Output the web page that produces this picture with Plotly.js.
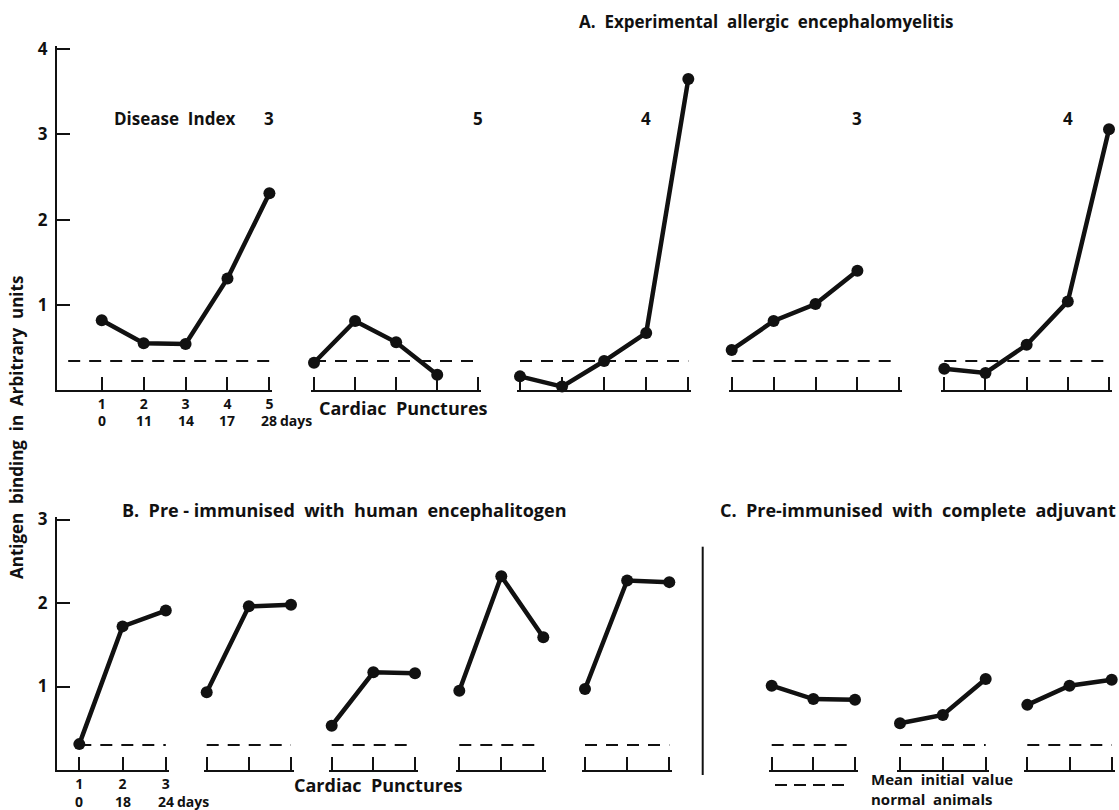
<!DOCTYPE html>
<html>
<head>
<meta charset="utf-8">
<script src="https://cdn.plot.ly/plotly-3.0.1.min.js"></script>
<style>html,body{margin:0;padding:0;background:#fff;}#chart{width:1119px;height:810px;}</style>
</head>
<body>
<div id="chart"></div>
<script>
// ---------------- DATA ----------------
// Panel A: Experimental allergic encephalomyelitis (5 animals)
const animalA1 = [0.82, 0.55, 0.54, 1.31, 2.31];
const animalA2 = [0.32, 0.81, 0.56, 0.18];
const animalA3 = [0.16, 0.04, 0.34, 0.67, 3.65];
const animalA4 = [0.47, 0.81, 1.01, 1.40];
const animalA5 = [0.25, 0.20, 0.53, 1.04, 3.06];
const diseaseIndex = [3, 5, 4, 3, 4];
// Panel B: pre-immunised with human encephalitogen
const animalB1 = [0.31, 1.72, 1.91];
const animalB2 = [0.93, 1.96, 1.98];
const animalB3 = [0.53, 1.17, 1.16];
const animalB4 = [0.95, 2.32, 1.59];
const animalB5 = [0.97, 2.27, 2.25];
// Panel C: pre-immunised with complete adjuvant
const animalC1 = [1.01, 0.85, 0.84];
const animalC2 = [0.56, 0.66, 1.09];
const animalC3 = [0.78, 1.01, 1.08];
// Mean initial value, normal animals
const meanInitialA = 0.34;
const meanInitialBC = 0.30;
// Tick labels
const punctureTicksA = ['1', '2', '3', '4', '5'];
const dayLabelsA = ['0', '11', '14', '17', '28'];
const punctureTicksB = ['1', '2', '3'];
const dayLabelsB = ['0', '18', '24'];
const yTicksA = [1, 2, 3, 4];
const yTicksB = [1, 2, 3];

// ---------------- LAYOUT HELPERS ----------------
const W = 1119, H = 810;
const px = p => p / W;
const py = p => 1 - p / H;
const INK = '#111';
const FONT = 'Open Sans, Lato, DejaVu Sans, sans-serif';
const txtFont = (size) => ({family: FONT, size: size, color: INK, weight: 'bold'});
const PAD = 3; // px of axis line beyond end ticks so Plotly keeps the end ticks

// group definitions: data, y axis, pixel span (first tick/axis start .. last tick), value at span start
const groups = [
  {data: animalA1, y: 'y',  dom: [57, 269.4],   x0: -0.067, n: 5, mean: meanInitialA, meanStart: 0.2, first: true, labels: punctureTicksA, days: dayLabelsA},
  {data: animalA2, y: 'y',  dom: [314, 478.3],  x0: 1, n: 5, mean: meanInitialA, meanStart: 1},
  {data: animalA3, y: 'y',  dom: [520, 688.3],  x0: 1, n: 5, mean: meanInitialA, meanStart: 1},
  {data: animalA4, y: 'y',  dom: [731.7, 899.3],x0: 1, n: 5, mean: meanInitialA, meanStart: 1},
  {data: animalA5, y: 'y',  dom: [944.3, 1109], x0: 1, n: 5, mean: meanInitialA, meanStart: 1},
  {data: animalB1, y: 'y2', dom: [57, 165.8],   x0: 0.484, n: 3, mean: meanInitialBC, meanStart: 1, first: true, labels: punctureTicksB, days: dayLabelsB},
  {data: animalB2, y: 'y2', dom: [206.7, 291],  x0: 1, n: 3, mean: meanInitialBC, meanStart: 1},
  {data: animalB3, y: 'y2', dom: [331.7, 415],  x0: 1, n: 3, mean: meanInitialBC, meanStart: 1},
  {data: animalB4, y: 'y2', dom: [459.3, 543.3],x0: 1, n: 3, mean: meanInitialBC, meanStart: 1},
  {data: animalB5, y: 'y2', dom: [585, 669.3],  x0: 1, n: 3, mean: meanInitialBC, meanStart: 1},
  {data: animalC1, y: 'y2', dom: [771.7, 855],  x0: 1, n: 3, mean: meanInitialBC, meanStart: 1},
  {data: animalC2, y: 'y2', dom: [900, 985.7],  x0: 1, n: 3, mean: meanInitialBC, meanStart: 1},
  {data: animalC3, y: 'y2', dom: [1027.3, 1111.7], x0: 1, n: 3, mean: meanInitialBC, meanStart: 1}
];

const traces = [];
const layout = {
  width: W, height: H,
  margin: {l: 0, r: 0, t: 0, b: 0},
  paper_bgcolor: '#fff', plot_bgcolor: 'rgba(0,0,0,0)',
  showlegend: false,
  font: txtFont(16),
  annotations: [],
  shapes: []
};

groups.forEach((g, i) => {
  const k = i === 0 ? '' : String(i + 1);
  const xName = 'x' + k;
  const ticks = Array.from({length: g.n}, (_, j) => j + 1);
  const ppu = (g.dom[1] - g.dom[0]) / (g.n - g.x0);
  const padL = g.first ? 0 : PAD;
  layout['xaxis' + k] = {
    domain: [px(g.dom[0] - padL), px(g.dom[1] + PAD)],
    range: [g.x0 - padL / ppu, g.n + PAD / ppu],
    anchor: g.y,
    showline: true, linecolor: INK, linewidth: 2,
    ticks: 'inside', ticklen: 13, tickwidth: 2, tickcolor: INK,
    tickmode: 'array', tickvals: ticks,
    ticktext: g.labels || ticks.map(() => ''),
    showticklabels: !!g.labels,
    tickfont: txtFont(14),
    ticklabelstandoff: 0,
    showgrid: false, zeroline: false, fixedrange: true
  };
  // mean initial value (dashed)
  traces.push({
    x: [g.meanStart, g.n], y: [g.mean, g.mean],
    xaxis: xName, yaxis: g.y, mode: 'lines', cliponaxis: false,
    line: {color: INK, width: 2, dash: '12px,9px'}, hoverinfo: 'skip'
  });
  // animal series
  traces.push({
    x: g.data.map((_, j) => j + 1), y: g.data,
    xaxis: xName, yaxis: g.y, mode: 'lines+markers', cliponaxis: false,
    line: {color: INK, width: 4.5},
    marker: {color: INK, size: 12}
  });
  // day labels under the first group of each panel
  if (g.days) {
    const dayY = g.y === 'y' ? py(421) : py(801);
    g.days.forEach((d, j) => {
      layout.annotations.push({xref: xName, yref: 'paper', x: j + 1, y: dayY,
        text: d, showarrow: false, xanchor: 'center', yanchor: 'middle', font: txtFont(14)});
    });
    layout.annotations.push({xref: xName, yref: 'paper', x: g.days.length, y: dayY,
      xshift: 9, text: 'days', showarrow: false, xanchor: 'left', yanchor: 'middle', font: txtFont(14)});
  }
});

// disease index labels above panel A groups
const diseaseLabelTick = [5, 5, 4, 4, 4];
diseaseIndex.forEach((d, i) => {
  const k = i === 0 ? '' : String(i + 1);
  layout.annotations.push({xref: 'x' + k, yref: 'paper', x: diseaseLabelTick[i], y: py(118),
    text: String(d), showarrow: false, xanchor: 'center', yanchor: 'middle', font: txtFont(17)});
});

const yPadA = PAD / ((390 - 49.3) / 4);
const yPadB = PAD / ((770 - 519.5) / 3);
layout.yaxis = {
  domain: [py(390), py(49.3 - PAD)], range: [0, 4 + yPadA], anchor: 'x',
  showline: true, linecolor: INK, linewidth: 2,
  ticks: 'inside', ticklen: 13, tickwidth: 2, tickcolor: INK,
  tickmode: 'array', tickvals: yTicksA, ticktext: yTicksA.map(String),
  tickfont: txtFont(17), ticklabelstandoff: 4,
  showgrid: false, zeroline: false, fixedrange: true
};
layout.yaxis2 = {
  domain: [py(770), py(519.5 - PAD)], range: [0, 3 + yPadB], anchor: 'x6',
  showline: true, linecolor: INK, linewidth: 2,
  ticks: 'inside', ticklen: 13, tickwidth: 2, tickcolor: INK,
  tickmode: 'array', tickvals: yTicksB, ticktext: yTicksB.map(String),
  tickfont: txtFont(17), ticklabelstandoff: 4,
  showgrid: false, zeroline: false, fixedrange: true
};

const ann = (x, y, text, size, xanchor, extra) => Object.assign({
  xref: 'paper', yref: 'paper', x: px(x), y: py(y), text: text, showarrow: false,
  xanchor: xanchor || 'left', yanchor: 'middle', font: txtFont(size || 16)
}, extra || {});

layout.annotations.push(
  ann(577, 22, 'A.  Experimental  allergic  encephalomyelitis', 17),
  ann(112, 118, 'Disease  Index', 17),
  ann(403, 408, 'Cardiac  Punctures', 18, 'center'),
  ann(120, 510, 'B.  Pre - immunised  with  human  encephalitogen', 18),
  ann(718, 510, 'C.  Pre-immunised  with  complete  adjuvant', 18),
  ann(378, 785, 'Cardiac  Punctures', 18, 'center'),
  ann(870, 810, 'Mean  initial  value<br>normal  animals', 15, 'left', {yanchor: 'bottom', align: 'left', borderpad: 0}),
  ann(17, 428, 'Antigen  binding  in  Arbitrary  units', 17, 'center', {textangle: -90})
);

layout.shapes.push(
  {type: 'line', xref: 'paper', yref: 'paper', x0: px(702.7), x1: px(702.7), y0: py(546.7), y1: py(775),
   line: {color: INK, width: 2}},
  {type: 'line', xref: 'paper', yref: 'paper', x0: px(775), x1: px(847), y0: py(785), y1: py(785),
   line: {color: INK, width: 2, dash: '12px,7px'}}
);

Plotly.newPlot('chart', traces, layout, {displayModeBar: false, staticPlot: true});
</script>
</body>
</html>
